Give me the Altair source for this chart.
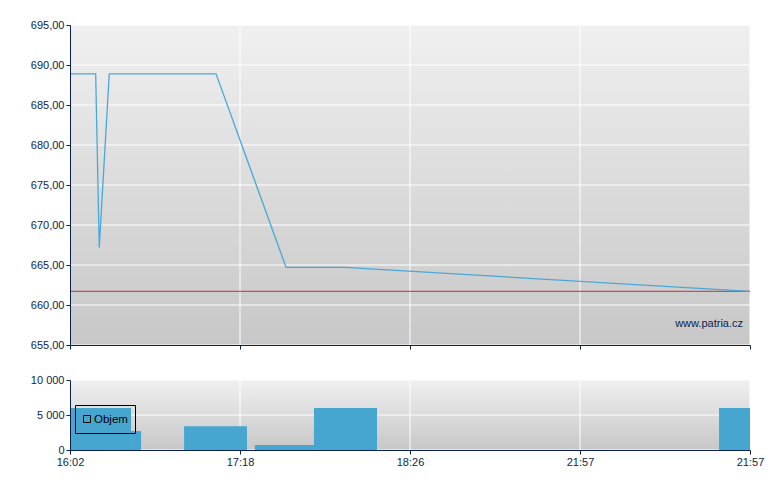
import altair as alt
import pandas as pd

# ---- data ----
x_labels = ["16:02", "17:18", "18:26", "21:57", "21:57"]
price_x = [0, 0.151, 0.172, 0.231, 0.859, 1.271, 1.618, 4]
price_y = [688.9, 688.9, 667.2, 688.9, 688.9, 664.7, 664.7, 661.7]
ref_price = [661.7]
vol_start = [0, 0.359, 0.671, 1.088, 1.435, 3.818]
vol_end = [0.359, 0.418, 1.041, 1.435, 1.806, 4]
vol_value = [6000, 2700, 3400, 700, 6000, 6000]
price_ticks = [655, 660, 665, 670, 675, 680, 685, 690, 695]
vol_ticks = [0, 5000, 10000]
x_ticks = [0, 1, 2, 3, 4]

W, H1, H2 = 680, 320, 70
NAVY = "#0B1F4E"
FONT = "Liberation Sans"
FS = 11

price_df = pd.DataFrame({"x": price_x, "price": price_y})
vol_df = pd.DataFrame({"x0": vol_start, "x1": vol_end, "v": vol_value})
ref_df = pd.DataFrame({"p": ref_price})
pt_df = pd.DataFrame({"v": price_ticks})
vt_df = pd.DataFrame({"v": vol_ticks})
xt_df = pd.DataFrame({"v": x_ticks})
one = alt.Data(values=[{"a": 1}])

label_expr_x = "[" + ",".join("'%s'" % s for s in x_labels) + "][datum.value]"

grad = alt.LinearGradient(
    gradient="linear",
    stops=[alt.GradientStop(color="#F0F0F0", offset=0),
           alt.GradientStop(color="#C7C7C7", offset=1)],
    x1=0, y1=0, x2=0, y2=1,
)

xscale = alt.Scale(domain=[0, 4], nice=False, zero=False)
pscale = alt.Scale(domain=[655, 695], nice=False, zero=False)
vscale = alt.Scale(domain=[0, 10000], nice=False, zero=False)

def x_axis(labels):
    return alt.Axis(values=x_ticks, labels=labels, labelExpr=label_expr_x, grid=False,
                    ticks=True, tickSize=4, tickColor=NAVY, domainColor=NAVY,
                    labelColor=NAVY, labelFont=FONT, labelFontSize=FS, title=None,
                    zindex=1, labelPadding=2, labelOverlap=False, labelFlush=False)

def y_axis(values, expr):
    return alt.Axis(values=values, grid=False, tickSize=4, tickColor=NAVY,
                    domainColor=NAVY, labelColor=NAVY, labelFont=FONT,
                    labelFontSize=FS, title=None, zindex=1, labelPadding=2,
                    labelOverlap=False, labelExpr=expr)

xa_top = x_axis(False)
xa_bot = x_axis(True)
ya_top = y_axis(price_ticks, "replace(format(datum.value, '.2f'), '.', ',')")
ya_bot = y_axis(vol_ticks, "replace(format(datum.value, ',d'), ',', ' ')")

# ---- top panel ----
bg1 = alt.Chart(one).mark_rect(color=grad).encode(
    x=alt.value(0), x2=alt.value(W), y=alt.value(0), y2=alt.value(H1))
hgrid1 = alt.Chart(pt_df).mark_rule(color="white", strokeWidth=1).encode(
    y=alt.Y("v:Q", scale=pscale, axis=ya_top))
vgrid1 = alt.Chart(xt_df).mark_rule(color="white", strokeWidth=1).encode(
    x=alt.X("v:Q", scale=xscale, axis=xa_top))
refline = alt.Chart(ref_df).mark_rule(color="#C8504F", strokeWidth=1.2).encode(
    y=alt.Y("p:Q", scale=pscale, axis=ya_top))
line = alt.Chart(price_df).mark_line(color="#4AA8D6", strokeWidth=1.3).encode(
    x=alt.X("x:Q", scale=xscale, axis=xa_top),
    y=alt.Y("price:Q", scale=pscale, axis=ya_top))
watermark = alt.Chart(one).mark_text(
    text="www.patria.cz", align="right", baseline="alphabetic", color=NAVY,
    font=FONT, fontSize=11).encode(x=alt.value(673), y=alt.value(302))

top = alt.layer(bg1, hgrid1, vgrid1, refline, line, watermark).properties(width=W, height=H1)

# ---- bottom panel ----
bg2 = alt.Chart(one).mark_rect(color=grad).encode(
    x=alt.value(0), x2=alt.value(W), y=alt.value(0), y2=alt.value(H2))
hgrid2 = alt.Chart(vt_df).mark_rule(color="white", strokeWidth=1).encode(
    y=alt.Y("v:Q", scale=vscale, axis=ya_bot))
vgrid2 = alt.Chart(xt_df).mark_rule(color="white", strokeWidth=1).encode(
    x=alt.X("v:Q", scale=xscale, axis=xa_bot))
bars = alt.Chart(vol_df).mark_rect(color="#46A6CF").encode(
    x=alt.X("x0:Q", scale=xscale, axis=xa_bot),
    x2="x1:Q",
    y=alt.Y("v:Q", scale=vscale, axis=ya_bot),
    y2=alt.datum(0),
)
leg_box = alt.Chart(one).mark_rect(fill="transparent", stroke="black", strokeWidth=1).encode(
    x=alt.value(5.5), x2=alt.value(65.5), y=alt.value(25.5), y2=alt.value(53.5))
leg_sym = alt.Chart(one).mark_rect(fill="transparent", stroke="black", strokeWidth=1).encode(
    x=alt.value(13.5), x2=alt.value(20.5), y=alt.value(35.5), y2=alt.value(42.5))
leg_txt = alt.Chart(one).mark_text(
    text="Objem", align="left", baseline="middle", color="black", font=FONT,
    fontSize=11.5).encode(x=alt.value(24), y=alt.value(39.5))

bottom = alt.layer(bg2, hgrid2, vgrid2, bars, leg_box, leg_sym, leg_txt).properties(
    width=W, height=H2)

chart = alt.vconcat(top, bottom, spacing=24).properties(
    padding={"left": 22, "top": 11, "right": 5, "bottom": 5},
    background="white",
).configure_view(strokeWidth=0)

chart.save("out.html", embed_options={"renderer": "svg", "actions": False})
